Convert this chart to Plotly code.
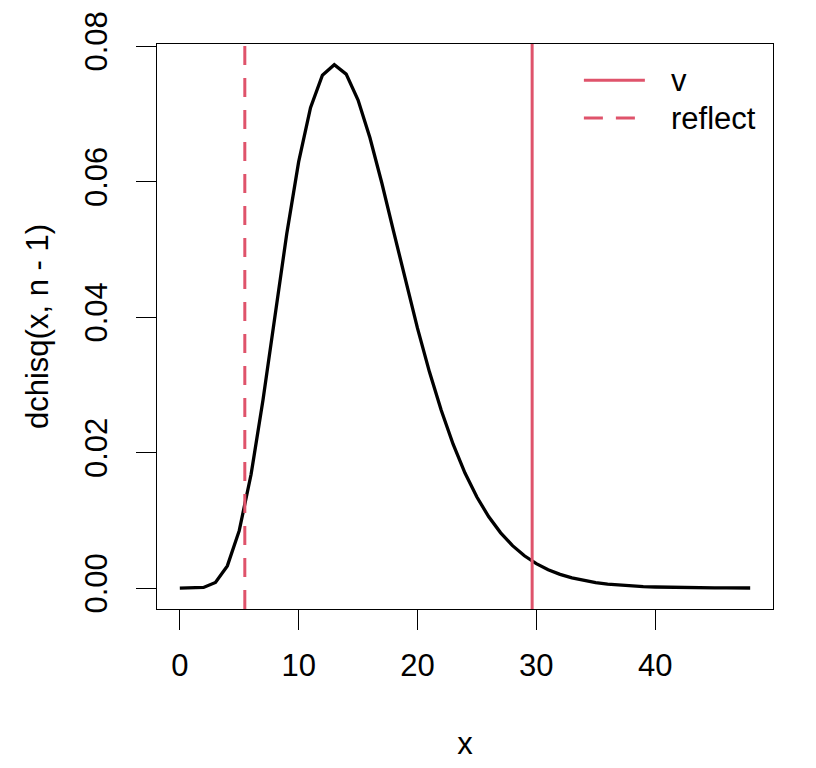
import plotly.graph_objects as go

# values at whole x
x_vals = list(range(0, 49))
dens = [0.0, 0.0000018, 0.0000983, 0.000832, 0.003275, 0.00847, 0.0168, 0.02775,
        0.04009, 0.05229, 0.0629, 0.07089, 0.0757, 0.07724, 0.07585, 0.07203,
        0.06646, 0.05978, 0.05257, 0.04532, 0.03836, 0.03195, 0.02623, 0.02123,
        0.01698, 0.01343, 0.01051, 0.00815, 0.00626, 0.00477, 0.0036, 0.00271,
        0.00202, 0.0015, 0.0011, 0.000806, 0.000587, 0.000426, 0.000307, 0.000221,
        0.000158, 0.000112, 0.0000795, 0.0000562, 0.0000396, 0.0000278, 0.0000195,
        0.0000136, 0.0000094]

v_stat = 29.65
reflect_stat = 5.47

legend_names = ['v', 'reflect']
legend_dash = ['solid', '19px,13px']

red = '#DF536B'
font_family = 'Liberation Sans, Arial, sans-serif'
fsize = 31

fig = go.Figure()

fig.add_trace(go.Scatter(x=x_vals, y=dens, mode='lines',
                         line=dict(color='black', width=3.3),
                         showlegend=False, hoverinfo='skip'))

# vertical lines (abline)
fig.add_vline(x=v_stat, line=dict(color=red, width=3, dash='solid'))
fig.add_vline(x=reflect_stat, line=dict(color=red, width=3, dash='19px,13px'))

# legend, no box
for i, (name, dash) in enumerate(zip(legend_names, legend_dash)):
    yy = 0.936 - i * 0.067
    fig.add_shape(type='line', xref='paper', yref='paper',
                  x0=0.693, x1=0.792, y0=yy, y1=yy,
                  line=dict(color=red, width=3, dash=dash))
    fig.add_annotation(xref='paper', yref='paper', x=0.831, y=yy,
                       text=name, showarrow=False, xanchor='left', yanchor='middle',
                       font=dict(size=fsize, color='black', family=font_family))

axis_common = dict(showgrid=False, zeroline=False, showline=True, mirror=True,
                   linecolor='black', linewidth=1.3, ticks='outside', ticklen=20,
                   tickwidth=1.3, tickcolor='black', automargin=False,
                   tickfont=dict(size=fsize, color='black', family=font_family))

fig.update_xaxes(range=[-1.92, 49.92], tickvals=[0, 10, 20, 30, 40],
                 ticklabelstandoff=9,
                 title=dict(text='x', standoff=49,
                            font=dict(size=fsize, color='black', family=font_family)),
                 **axis_common)
fig.update_yaxes(range=[-0.00309, 0.0803], tickvals=[0, 0.02, 0.04, 0.06, 0.08],
                 ticktext=['0.00', '0.02', '0.04', '0.06', '0.08'], tickangle=-90,
                 ticklabelstandoff=16,
                 title=dict(text='dchisq(x, n - 1)', standoff=21,
                            font=dict(size=fsize, color='black', family=font_family)),
                 **axis_common)

# page body adds 8px, so the figure is a bit smaller
fig.update_layout(width=808, height=760,
                  margin=dict(l=149, r=43, t=36, b=159),
                  plot_bgcolor='white', paper_bgcolor='white',
                  showlegend=False)

fig.write_html('out.html')
